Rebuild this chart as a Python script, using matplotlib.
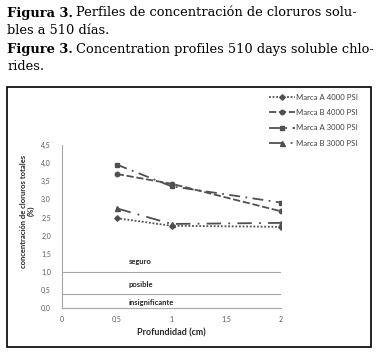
import matplotlib
matplotlib.use('Agg')
import matplotlib.pyplot as plt
from matplotlib.patches import Rectangle

W, H = 382, 363

# data
depth = [0.5, 1, 2]
marca_a_4000 = [2.48, 2.27, 2.24]
marca_b_4000 = [3.70, 3.43, 2.67]
marca_a_3000 = [3.96, 3.36, 2.91]
marca_b_3000 = [2.75, 2.32, 2.35]

labels = ['Marca A 4000 PSI', 'Marca B 4000 PSI', 'Marca A 3000 PSI', 'Marca B 3000 PSI']
x_ticks = [0, 0.5, 1, 1.5, 2]
x_ticklabels = ['0', '0,5', '1', '1,5', '2']
y_ticks = [0, 0.5, 1, 1.5, 2, 2.5, 3, 3.5, 4, 4.5]
y_ticklabels = ['0,0', '0,5', '1,0', '1,5', '2,0', '2,5', '3,0', '3,5', '4,0', '4,5']
limits = [1.0, 0.4]
zones = ['seguro', 'posible', 'insignificante']
zone_y = [1.27, 0.66, 0.15]


def px(x, y):
    return x / W, 1 - y / H


fig = plt.figure(figsize=(W / 100, H / 100), dpi=100)
renderer = fig.canvas.get_renderer()
chart_font = 'Lato'
serif = 'DejaVu Serif'
cap_size = 9.4


def caption_line(bold, rest, y):
    x = 7
    if bold:
        b = fig.text(*px(x, y), bold, fontsize=cap_size, family=serif, weight='bold', va='center')
        x = b.get_window_extent(renderer).x1 + 3.5
    fig.text(*px(x, y), rest, fontsize=cap_size, family=serif, va='center')


caption_line('Figura 3.', 'Perfiles de concentración de cloruros solu-', 13)
caption_line('', 'bles a 510 días.', 30)
caption_line('Figure 3.', 'Concentration profiles 510 days soluble chlo-', 49)
caption_line('', 'rides.', 67)

# frame around the chart
fig.patches.append(Rectangle(px(7, 347), 364 / W, 260 / H, transform=fig.transFigure,
                             fill=False, edgecolor='black', linewidth=1.2))

ax = fig.add_axes([62 / W, 55 / H, 219 / W, 163 / H])
grey = '#505050'

for lim in limits:
    ax.plot([0, 2], [lim, lim], color='#a6a6a6', linewidth=0.8)

ax.plot(depth, marca_a_4000, color=grey, linestyle=(0, (1, 1)), linewidth=1.3,
        marker='D', markersize=2.8, label=labels[0])
ax.plot(depth, marca_b_4000, color=grey, linestyle=(0, (4, 1.5)), linewidth=1.3,
        marker='o', markersize=3.2, label=labels[1])
ax.plot(depth, marca_a_3000, color=grey, linestyle=(0, (6, 3, 1, 3)), linewidth=1.3,
        marker='s', markersize=3.2, label=labels[2])
ax.plot(depth, marca_b_3000, color=grey, linestyle=(0, (8, 4, 1, 4)), linewidth=1.3,
        marker='^', markersize=3.6, label=labels[3])

for name, yy in zip(zones, zone_y):
    ax.text(0.61, yy, name, fontsize=5.5, family=chart_font, weight='bold',
            color='#262626', va='center')

ax.set_xlim(0, 2)
ax.set_ylim(0, 4.5)
ax.set_xticks(x_ticks)
ax.set_xticklabels(x_ticklabels)
ax.set_yticks(y_ticks)
ax.set_yticklabels(y_ticklabels)
ax.tick_params(length=0, labelsize=5, labelcolor='#595959')
ax.tick_params(axis='x', pad=6)
ax.tick_params(axis='y', pad=8)
for lab in ax.get_xticklabels() + ax.get_yticklabels():
    lab.set_family(chart_font)
for side in ['top', 'right']:
    ax.spines[side].set_visible(False)
for side in ['left', 'bottom']:
    ax.spines[side].set_color('#a6a6a6')
    ax.spines[side].set_linewidth(0.8)

fig.text(*px(171, 333), 'Profundidad (cm)', fontsize=6.5, family=chart_font, weight='bold',
         color='#262626', ha='center', va='center')
fig.text(*px(27.5, 211), 'concentración de cloruros totales\n(%)', fontsize=5.5, family=chart_font,
         weight='bold', color='#262626', ha='center', va='center', rotation=90, linespacing=1.2)

leg = ax.legend(loc='upper left', bbox_to_anchor=px(269, 94), bbox_transform=fig.transFigure,
                frameon=False, fontsize=5.6, handlelength=3.3, labelspacing=1.05, handletextpad=0.2,
                borderaxespad=0, borderpad=0)
for t in leg.get_texts():
    t.set_family(chart_font)
    t.set_color('#404040')

fig.savefig('out.png', dpi=100)
